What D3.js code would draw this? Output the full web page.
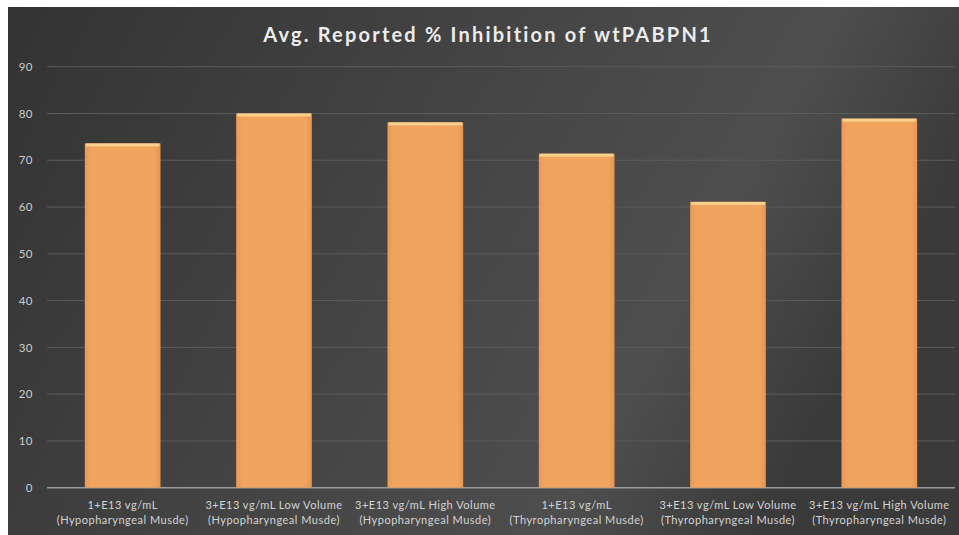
<!DOCTYPE html>
<html><head><meta charset="utf-8">
<script src="https://cdn.jsdelivr.net/npm/d3@7"></script>
<style>html,body{margin:0;padding:0;background:#fff;}svg{display:block;}</style>
</head><body>
<svg id="c" width="959" height="535"></svg>
<script>
const categories = [
  ["1+E13 vg/mL", "(Hypopharyngeal Musde)"],
  ["3+E13 vg/mL Low Volume", "(Hypopharyngeal Musde)"],
  ["3+E13 vg/mL High Volume", "(Hypopharyngeal Musde)"],
  ["1+E13 vg/mL", "(Thyropharyngeal Musde)"],
  ["3+E13 vg/mL Low Volume", "(Thyropharyngeal Musde)"],
  ["3+E13 vg/mL High Volume", "(Thyropharyngeal Musde)"]
];
const values = [73.6, 80.0, 78.1, 71.4, 61.1, 78.9];
const yTicks = [0, 10, 20, 30, 40, 50, 60, 70, 80, 90];
const title = "Avg. Reported % Inhibition of wtPABPN1";

const svg = d3.select("#c");
const W = 959, H = 535;
const defs = svg.append("defs");
const bg = defs.append("linearGradient").attr("id","bg").attr("x1","0").attr("y1","0").attr("x2","1").attr("y2","0.3");
bg.append("stop").attr("offset","0").attr("stop-color","#333333");
bg.append("stop").attr("offset","0.45").attr("stop-color","#434343");
bg.append("stop").attr("offset","0.8").attr("stop-color","#4e4e4e");
bg.append("stop").attr("offset","1").attr("stop-color","#3a3a3a");
const bar = defs.append("linearGradient").attr("id","bar").attr("x1","0").attr("y1","0").attr("x2","1").attr("y2","0");
bar.append("stop").attr("offset","0").attr("stop-color","#e99a55");
bar.append("stop").attr("offset","0.08").attr("stop-color","#f0a45e");
bar.append("stop").attr("offset","0.92").attr("stop-color","#f0a45e");
bar.append("stop").attr("offset","1").attr("stop-color","#e59652");

svg.append("rect").attr("x",8).attr("y",7).attr("width",W-8).attr("height",H-7).attr("fill","url(#bg)");

const m = {left:47, right:955, top:66.7, bottom:487.7};
const x = d3.scaleBand().domain(d3.range(categories.length)).range([m.left, m.right]).paddingInner(0.5).paddingOuter(0.25);
const y = d3.scaleLinear().domain([0, 90]).range([m.bottom, m.top]);

// grid
svg.append("g").selectAll("line").data(yTicks).join("line")
  .attr("x1", m.left).attr("x2", m.right)
  .attr("y1", d => y(d)).attr("y2", d => y(d))
  .attr("stroke", d => d === 0 ? "#9a9a9a" : "#5c5c5c").attr("stroke-width", d => d === 0 ? 1.5 : 1);

// y axis labels
const yAxis = d3.axisLeft(y).tickValues(yTicks).tickSize(0).tickPadding(0);
const ga = svg.append("g").attr("transform", `translate(33,0)`).call(yAxis);
ga.select(".domain").remove();
ga.selectAll("text").attr("fill","#cccccc").attr("font-family","Lato, 'Open Sans', sans-serif").attr("font-size", 11.5).attr("letter-spacing", 0.5);

// bars
const bars = svg.append("g").selectAll("g").data(values).join("g");
bars.append("rect")
  .attr("x", (d,i) => x(i)).attr("width", x.bandwidth())
  .attr("y", d => y(d)).attr("height", d => y(0) - y(d))
  .attr("fill", "url(#bar)");
bars.append("rect")
  .attr("x", (d,i) => x(i) + 1).attr("width", x.bandwidth() - 2)
  .attr("y", d => y(d)).attr("height", 3)
  .attr("fill", "#fbd08f");

// x labels
const xl = svg.append("g").selectAll("text").data(categories).join("text")
  .attr("x", (d,i) => x(i) + x.bandwidth()/2)
  .attr("text-anchor","middle")
  .attr("fill","#d4d4d4").attr("font-family","Lato, 'Open Sans', sans-serif").attr("font-size", 11).attr("letter-spacing", 0.5);
xl.append("tspan").attr("x",(d,i)=> x(i) + x.bandwidth()/2).attr("y", 509).text(d => d[0]);
xl.append("tspan").attr("x",(d,i)=> x(i) + x.bandwidth()/2).attr("y", 524).text(d => d[1]);

// title
svg.append("text").attr("x", 488).attr("y", 42).attr("text-anchor","middle")
  .attr("fill","#ececec").attr("font-family","Lato, 'Open Sans', sans-serif").attr("font-weight","bold")
  .attr("font-size", 20).attr("letter-spacing", 2.2).text(title);
</script>
</body></html>
